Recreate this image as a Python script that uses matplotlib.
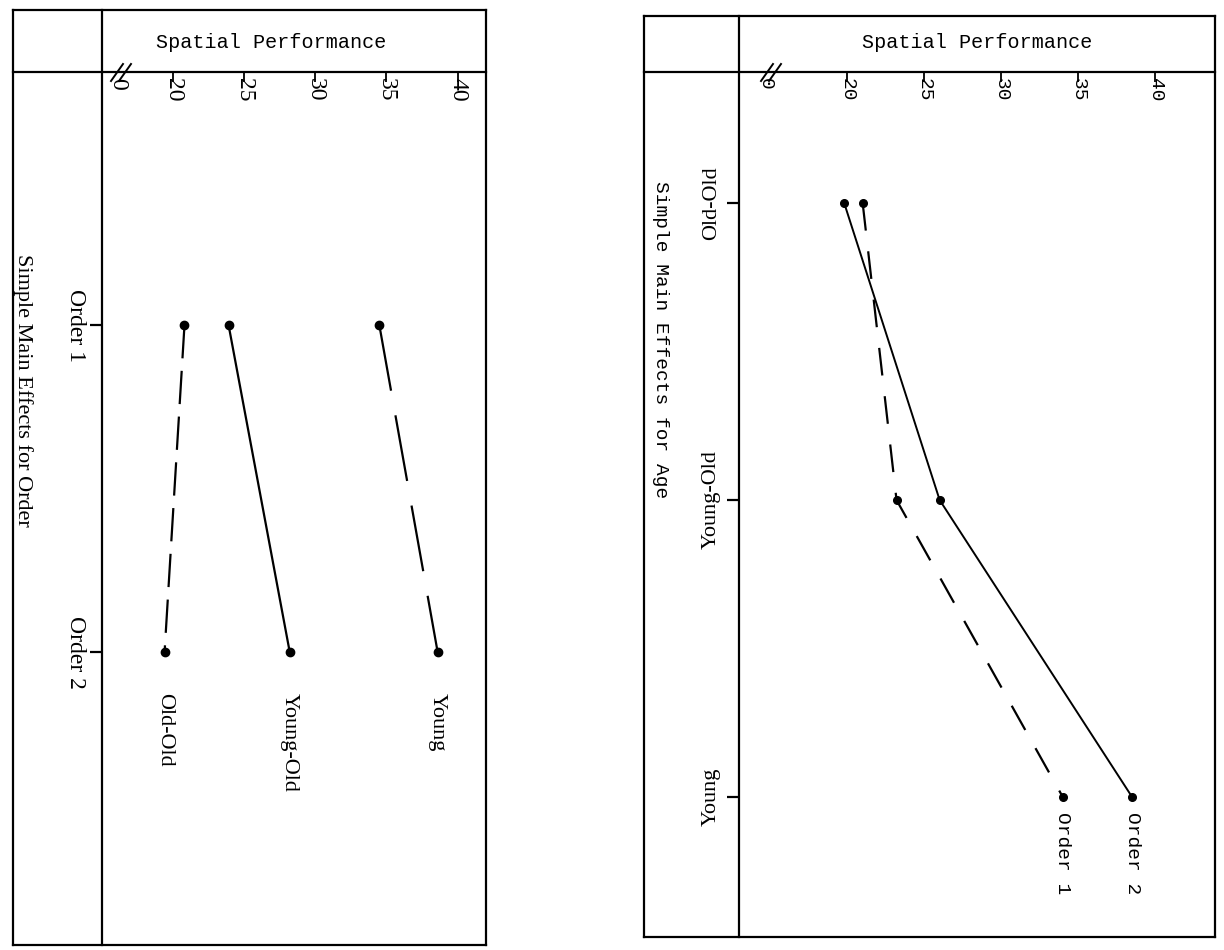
import numpy as np
import matplotlib
matplotlib.use('Agg')
import matplotlib.pyplot as plt
from matplotlib.lines import Line2D
from matplotlib.transforms import blended_transform_factory

plt.rcParams['lines.scale_dashes'] = False

# Left panel: simple main effects for order
orders = ['Order 1', 'Order 2']
young = [34.5, 38.6]
young_old = [23.9, 28.2]
old_old = [20.8, 19.4]

# Right panel: simple main effects for age
ages = ['Old-Old', 'Young-Old', 'Young']
order1 = [21.0, 23.2, 34.0]
order2 = [19.8, 26.0, 38.5]

score_ticks = [20, 25, 30, 35, 40]

MONO = 'Liberation Mono'
SERIF = 'Liberation Serif'

W, H = 1224, 950
fig = plt.figure(figsize=(W / 100, H / 100), dpi=100)


def box(x0, y0, x1, y1):
    # pixel box (top-left origin) -> figure fraction rect
    return [x0 / W, 1 - y1 / H, (x1 - x0) / W, (y1 - y0) / H]


def fig_line(x0, y0, x1, y1, lw=1.6):
    fig.add_artist(Line2D([x0 / W, x1 / W], [1 - y0 / H, 1 - y1 / H],
                          transform=fig.transFigure, color='k', lw=lw))


def panel_frame(x0, y0, x1, y1, xa, ya):
    fig_line(x0, y0, x1, y0)
    fig_line(x0, y1, x1, y1)
    fig_line(x0, y0, x0, y1)
    fig_line(x1, y0, x1, y1)
    fig_line(x0, ya, x1, ya)
    fig_line(xa, y0, xa, y1)


def break_mark(px, py):
    for dx in (-4, 4):
        fig_line(px + dx - 6, py + 9, px + dx + 6, py - 8, lw=1.4)


def setup_axes(ax, xlim, ylim, ncat):
    ax.set_xlim(*xlim)
    ax.set_ylim(*ylim)
    for s in ax.spines.values():
        s.set_visible(False)
    ax.set_xticks(score_ticks)
    ax.set_yticks(np.arange(ncat))
    ax.tick_params(axis='x', top=True, bottom=False, direction='in',
                   length=7, width=1.3, labeltop=False, labelbottom=False)
    ax.tick_params(axis='y', left=True, right=False, direction='out',
                   length=9, width=1.6, labelleft=False)
    ax.patch.set_alpha(0)


# ---------------- left panel ----------------
panel_frame(13, 10, 486, 945, 102, 72)
ax1 = fig.add_axes(box(102, 72, 486, 945))
setup_axes(ax1, (15.0, 42.0), (1.896, -0.774), len(orders))
pos1 = np.arange(len(orders))

ax1.plot(young, pos1, color='k', lw=1.6, dashes=(48, 18),
         marker='o', ms=6)
ax1.plot(young_old, pos1, color='k', lw=1.6, marker='o', ms=6)
ax1.plot(old_old, pos1, color='k', lw=1.6, dashes=(24, 9),
         marker='o', ms=6)

tr1 = blended_transform_factory(ax1.transData, ax1.transAxes)
for v in score_ticks:
    ax1.text(v, 0.993, str(v), transform=tr1, rotation=-90, ha='center',
             va='top', family=SERIF, fontsize=17)
ax1.text(16.1, 0.993, '0', transform=tr1, rotation=-90, ha='center',
         va='top', family=SERIF, fontsize=17)
break_mark(121, 72)

ax1.text(0.44, 1.034, 'Spatial Performance', transform=ax1.transAxes,
         ha='center', va='center', family=MONO, fontsize=14.5)

trc1 = blended_transform_factory(ax1.transAxes, ax1.transData)
for i, lab in enumerate(orders):
    ax1.text(-0.07, i, lab, transform=trc1, rotation=-90, ha='center',
             va='center', family=SERIF, fontsize=17)

for vals, lab in [(old_old, 'Old-Old'), (young_old, 'Young-Old'),
                  (young, 'Young')]:
    ax1.text(vals[-1], pos1[-1] + 0.125, lab, rotation=-90, ha='center',
             va='top', family=SERIF, fontsize=16)

fig.text(23 / W, 1 - 390 / H, 'Simple Main Effects for Order',
         rotation=-90, ha='center', va='center', family=SERIF, fontsize=16)

# ---------------- right panel ----------------
panel_frame(644, 16, 1215, 937, 739, 72)
ax2 = fig.add_axes(box(739, 72, 1215, 937))
setup_axes(ax2, (12.97, 43.88), (2.471, -0.441), len(ages))
pos2 = np.arange(len(ages))

ax2.plot(order2, pos2, color='k', lw=1.4, marker='o', ms=5.5)
ax2.plot(order1, pos2, color='k', lw=1.6, dashes=(20, 15),
         marker='o', ms=5.5)

tr2 = blended_transform_factory(ax2.transData, ax2.transAxes)
for v in score_ticks:
    ax2.text(v, 0.993, str(v), transform=tr2, rotation=-90, ha='center',
             va='top', family=MONO, fontsize=14)
ax2.text(14.7, 0.993, '0', transform=tr2, rotation=-90, ha='center',
         va='top', family=MONO, fontsize=14)
break_mark(771, 72)

ax2.text(0.5, 1.034, 'Spatial Performance', transform=ax2.transAxes,
         ha='center', va='center', family=MONO, fontsize=14.5)

trc2 = blended_transform_factory(ax2.transAxes, ax2.transData)
for i, lab in enumerate(ages):
    ax2.text(-0.058, i, lab, transform=trc2, rotation=90, ha='center',
             va='center', family=SERIF, fontsize=16)

for vals, lab in [(order1, 'Order 1'), (order2, 'Order 2')]:
    ax2.text(vals[-1], pos2[-1] + 0.05, lab, rotation=-90, ha='center',
             va='top', family=MONO, fontsize=14)

fig.text(660 / W, 1 - 340 / H, 'Simple Main Effects for Age',
         rotation=-90, ha='center', va='center', family=MONO, fontsize=14)

fig.savefig('out.png', dpi=100)
